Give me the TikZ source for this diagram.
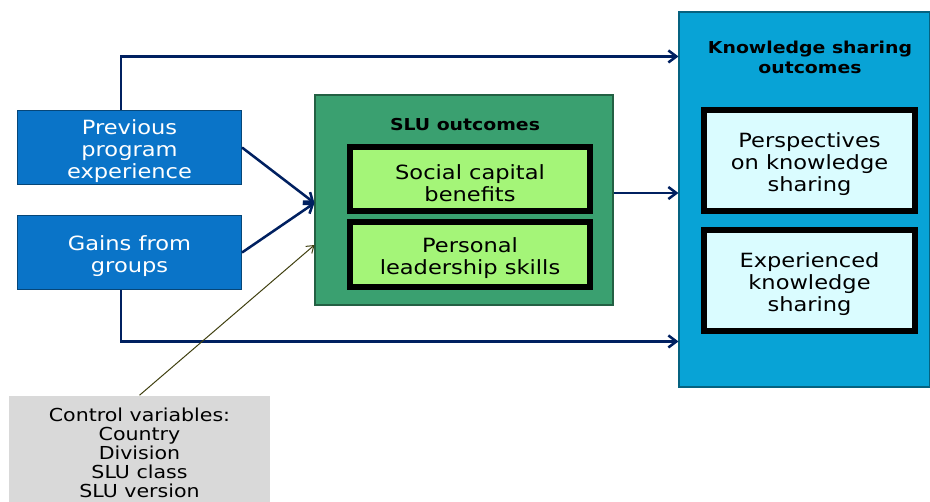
\documentclass[tikz,border=0pt]{standalone}
\usepackage{fontspec}
\setmainfont{DejaVu Sans}[FakeStretch=1.15]
\usetikzlibrary{calc,arrows.meta}

\definecolor{boxblue}{RGB}{10,116,200}
\definecolor{slugreen}{RGB}{58,160,112}
\definecolor{limegreen}{RGB}{164,245,120}
\definecolor{ksblue}{RGB}{8,163,214}
\definecolor{palecyan}{RGB}{218,252,255}
\definecolor{navy}{RGB}{0,32,96}
\definecolor{olive}{RGB}{64,64,16}
\definecolor{ctrlgrey}{RGB}{217,217,217}

% pushes a centred block of lines a little down
\newcommand{\topgap}{\rule{0pt}{17pt}}

\tikzset{
	input/.style={draw=boxblue!60!black, line width=0.8pt, fill=boxblue, text=white, align=center,
		minimum width=168pt, minimum height=55.5pt, inner sep=0pt,
		font=\fontsize{14.7}{16.5}\selectfont},
	group/.style={line width=0.8pt, inner sep=0pt},
	item/.style={draw=black, line width=4.5pt, align=center, inner sep=0pt,
		font=\fontsize{14.7}{16.5}\selectfont},
	heading/.style={align=center, font=\bfseries\fontsize{12.3}{15}\selectfont},
	link/.style={navy, line width=1.9pt, -{Straight Barb[length=6pt,width=9pt]}},
}

\begin{document}
\begin{tikzpicture}[x=0.75pt,y=0.75pt,yscale=-1,xscale=1]
	\useasboundingbox (0,0) rectangle (930,501);

	% inputs on the left
	\node[input] (prev) at (129.5,147.5) {\topgap Previous\\program\\experience};
	\node[input] (gains) at (129.5,252.5) {\topgap Gains from\\groups};

	% SLU outcomes
	\node[group, draw=slugreen!60!black, fill=slugreen, minimum width=223.5pt, minimum height=157.5pt] (slu) at (464,200) {};
	\node[heading] (slutitle) at (465,125) {SLU outcomes};
	\node[item, fill=limegreen, minimum width=180pt, minimum height=48pt] (social) at (470,179) {\topgap Social capital\\benefits};
	\node[item, fill=limegreen, minimum width=180pt, minimum height=48.75pt] (lead) at (470,254.5) {\topgap Personal\\leadership skills};

	% knowledge sharing outcomes
	\node[group, draw=ksblue!60!black, fill=ksblue, minimum width=188.25pt, minimum height=281.25pt] (ks) at (804.5,199.5) {};
	\node[heading] (kstitle) at (810,57) {Knowledge sharing\\outcomes};
	\node[item, fill=palecyan, minimum width=158.25pt, minimum height=75.75pt] (persp) at (809.5,160.5) {\topgap Perspectives\\on knowledge\\sharing};
	\node[item, fill=palecyan, minimum width=158.25pt, minimum height=75.75pt] (exper) at (809.5,280.5) {\topgap Experienced\\knowledge\\sharing};

	% control variables
	\node[fill=ctrlgrey, minimum width=195.75pt, minimum height=79.5pt, align=center, inner sep=0pt,
		font=\fontsize{13.4}{14.25}\selectfont] (ctrl) at (139.5,448.5) {\topgap Control variables:\\Country\\Division\\SLU class\\SLU version};

	% connectors
	\draw[link] (prev.east) -- ($(slu.west)+(0,3)$);
	\draw[link] (gains.east) -- ($(slu.west)+(0,3)$);
	\draw[link] ([xshift=-6.4pt]prev.north) |- ($(ks.north west)+(0,45)$);
	\draw[link] ([xshift=-6.4pt]gains.south) |- ($(ks.north west)+(0,330)$);
	\coordinate (mid) at ($(slu.east)+(0,-7)$);
	\draw[link] (mid) -- (mid -| ks.west);
	\draw[olive, line width=0.75pt, -{Straight Barb[length=5pt,width=7pt]}] (ctrl.north) -- ($(slu.west)+(0,45)$);
\end{tikzpicture}
\end{document}
